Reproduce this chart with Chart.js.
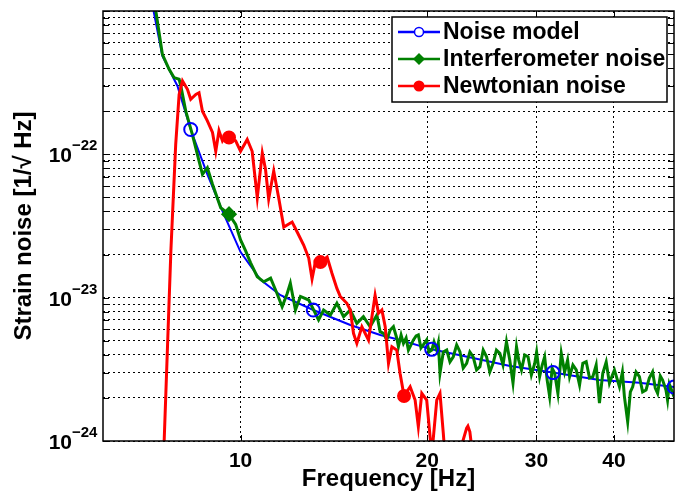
<!DOCTYPE html>
<html>
<head>
<meta charset="utf-8">
<script src="https://cdn.jsdelivr.net/npm/chart.js"></script>
<style>
  body { margin: 0; background: #fff; }
  canvas { display: block; }
</style>
</head>
<body>
<canvas id="noiseChart" width="675" height="494"></canvas>
<script>
// Axis limits and tick labels
const xRange = [6, 50];
const xTicks = [10, 20, 30, 40];
const yRange = [1e-24, 1e-21];
const yDecades = [1e-24, 1e-23, 1e-22];
const yLabelValues = [1e-24, 1e-23, 1e-22];
const yLabelExps = ['\u221224', '\u221223', '\u221222'];

// Noise model (blue), [frequency Hz, strain]
const modelNoise = [
  [7.24, 1.0e-21], [7.48, 4.85e-22], [7.91, 3.0e-22], [8.31, 1.49e-22], [8.84, 7.26e-23],
  [9.35, 4.02e-23], [10.0, 2.08e-23], [10.77, 1.33e-23], [11.6, 1.04e-23], [13.1, 8.2e-24],
  [15.03, 6.45e-24], [16.8, 5.49e-24], [18.08, 5.07e-24], [20.33, 4.36e-24], [23.7, 3.79e-24],
  [27.2, 3.34e-24], [31.9, 3.0e-24], [37.9, 2.66e-24], [44.0, 2.55e-24], [50, 2.38e-24]
];
const modelMarks = [8.31, 13.1, 20.33, 31.9, 50];

// Interferometer noise (green)
const ifoNoise = [
  [7.30, 1.0e-21], [7.48, 4.99e-22], [7.67, 3.92e-22], [7.81, 3.43e-22], [7.96, 3.34e-22],
  [8.01, 3.0e-22], [8.16, 2.0e-22], [8.36, 1.38e-22], [8.57, 8.99e-23], [8.68, 7.25e-23],
  [8.84, 8.07e-23], [9.01, 6.18e-23], [9.29, 4.24e-23], [9.58, 3.82e-23], [9.82, 3.25e-23],
  [10.0, 2.53e-23], [10.19, 2.12e-23], [10.38, 1.75e-23], [10.64, 1.40e-23], [10.90, 1.29e-23],
  [11.18, 1.37e-23], [11.45, 1.07e-23], [11.67, 8.65e-24], [11.89, 1.07e-23], [12.03, 1.26e-23],
  [12.26, 8.20e-24], [12.49, 1.02e-23], [12.88, 9.63e-24], [13.12, 8.20e-24], [13.36, 6.99e-24],
  [13.61, 8.20e-24], [13.96, 7.57e-24], [14.30, 9.13e-24], [14.66, 7.37e-24], [15.03, 8.20e-24],
  [15.40, 6.62e-24], [15.78, 7.37e-24], [16.18, 6.27e-24], [16.59, 7.57e-24], [16.79, 5.79e-24],
  [17.00, 5.64e-24], [17.21, 5.07e-24], [17.43, 5.95e-24], [17.64, 6.27e-24], [17.86, 5.23e-24],
  [17.97, 4.55e-24], [18.15, 5.49e-24], [18.31, 4.80e-24], [18.49, 5.23e-24], [18.65, 4.31e-24],
  [18.83, 4.68e-24], [19.00, 5.07e-24], [19.19, 5.40e-24], [19.35, 5.49e-24], [19.54, 4.46e-24],
  [19.71, 4.68e-24], [19.96, 5.07e-24], [20.13, 4.18e-24], [20.34, 4.31e-24], [20.51, 4.91e-24],
  [20.72, 4.31e-24], [20.84, 4.83e-24], [20.97, 2.97e-24], [21.23, 4.18e-24], [21.50, 4.31e-24],
  [21.76, 3.56e-24], [22.03, 3.87e-24], [22.31, 4.68e-24], [22.58, 4.20e-24], [22.86, 3.23e-24],
  [23.15, 3.48e-24], [23.43, 4.18e-24], [23.72, 3.87e-24], [24.02, 3.13e-24], [24.32, 3.30e-24],
  [24.62, 4.31e-24], [24.93, 3.87e-24], [25.23, 3.03e-24], [25.54, 3.48e-24], [25.86, 4.31e-24],
  [26.19, 4.09e-24], [26.50, 3.39e-24], [26.84, 4.93e-24], [27.17, 3.67e-24], [27.50, 2.54e-24],
  [27.86, 4.55e-24], [28.09, 3.67e-24], [28.38, 3.13e-24], [28.72, 3.98e-24], [29.08, 3.87e-24],
  [29.44, 2.89e-24], [29.81, 3.48e-24], [30.02, 4.18e-24], [30.36, 2.81e-24], [30.65, 3.39e-24],
  [30.93, 3.87e-24], [31.22, 2.66e-24], [31.51, 2.04e-24], [31.80, 3.23e-24], [32.10, 2.97e-24],
  [32.49, 2.15e-24], [32.90, 4.09e-24], [33.31, 3.03e-24], [33.68, 3.67e-24], [33.93, 2.81e-24],
  [34.35, 3.39e-24], [34.78, 3.13e-24], [35.21, 2.46e-24], [35.64, 3.48e-24], [36.09, 3.57e-24],
  [36.54, 2.75e-24], [36.99, 2.81e-24], [37.45, 3.39e-24], [37.91, 1.84e-24], [38.38, 2.97e-24],
  [38.87, 3.56e-24], [39.34, 2.53e-24], [39.78, 2.89e-24], [40.08, 3.13e-24], [40.53, 2.66e-24],
  [40.83, 2.39e-24], [41.28, 3.03e-24], [41.59, 2.04e-24], [42.10, 1.36e-24], [42.52, 2.20e-24],
  [42.89, 2.39e-24], [43.43, 3.03e-24], [43.97, 2.81e-24], [44.50, 2.20e-24], [45.07, 2.27e-24],
  [45.62, 2.75e-24], [46.18, 3.04e-24], [46.64, 2.34e-24], [47.05, 2.15e-24], [47.52, 2.84e-24],
  [47.93, 2.66e-24], [48.53, 2.27e-24], [48.82, 1.93e-24], [49.13, 2.50e-24], [50, 2.04e-24]
];
const ifoMarks = [9.58];

// Newtonian noise (red)
const nnNoise = [
  [7.46, 3.88e-25], [7.53, 1.0e-24], [7.72, 2.12e-23], [7.86, 1.18e-22], [7.96, 2.62e-22],
  [8.06, 3.25e-22], [8.21, 2.84e-22], [8.31, 2.42e-22], [8.47, 2.62e-22], [8.57, 2.69e-22],
  [8.68, 2.0e-22], [8.84, 1.71e-22], [9.01, 1.42e-22], [9.12, 1.05e-22], [9.23, 1.46e-22],
  [9.35, 1.24e-22], [9.46, 1.34e-22], [9.58, 1.31e-22], [9.82, 1.24e-22], [10.0, 1.05e-22],
  [10.25, 1.27e-22], [10.44, 1.05e-22], [10.64, 4.98e-23], [10.84, 1.02e-22], [10.97, 7.86e-23],
  [11.10, 4.88e-23], [11.31, 7.65e-23], [11.52, 4.98e-23], [11.74, 3.11e-23], [12.11, 3.37e-23],
  [12.34, 2.87e-23], [12.64, 2.33e-23], [12.88, 1.89e-23], [13.04, 1.35e-23], [13.20, 1.77e-23],
  [13.45, 1.77e-23], [13.79, 1.92e-23], [14.04, 1.48e-23], [14.30, 1.16e-23], [14.48, 1.02e-23],
  [14.84, 9.13e-24], [15.03, 8.20e-24], [15.21, 5.64e-24], [15.40, 4.80e-24], [15.69, 6.27e-24],
  [16.08, 5.07e-24], [16.48, 1.04e-23], [16.69, 7.78e-24], [16.90, 8.20e-24], [17.11, 6.27e-24],
  [17.32, 3.48e-24], [17.54, 4.55e-24], [17.86, 4.31e-24], [18.08, 2.97e-24], [18.35, 2.06e-24],
  [18.77, 2.39e-24], [19.12, 1.93e-24], [19.35, 1.26e-24], [19.60, 2.15e-24], [19.96, 1.93e-24],
  [20.34, 7.99e-25], [20.72, 1.93e-24], [20.97, 2.15e-24], [21.23, 1.13e-24], [21.50, 5.34e-25],
  [22.03, 2.81e-25], [22.58, 6.28e-25], [22.83, 1.0e-24], [23.15, 1.23e-24], [23.26, 1.27e-24],
  [23.43, 1.16e-24], [23.72, 7.37e-25], [24.32, 2.81e-25]
];
const nnMarks = [9.58, 13.45, 18.35];

const FONT = '"Liberation Sans", Arial, Helvetica, sans-serif';
const font = size => 'bold ' + size + 'px ' + FONT;

const toPoints = pairs => pairs.map(p => ({x: p[0], y: p[1]}));
const markerRadius = (marks, r) => ctx => (ctx.raw && marks.includes(ctx.raw.x)) ? r : 0;

// grid positions: 1..9 in every decade
const yGrid = [];
yDecades.forEach(d => { for (let m = 1; m <= 9; m++) yGrid.push(m * d); });
yGrid.push(yRange[1]);

const legendEntries = [
  {label: 'Noise model', color: '#0000ff', marker: 'openCircle'},
  {label: 'Interferometer noise', color: '#008000', marker: 'diamond'},
  {label: 'Newtonian noise', color: '#ff0000', marker: 'circle'}
];

// frame, inner ticks, tick labels with superscripts, and the legend box
const decorPlugin = {
  id: 'decor',
  afterDatasetsDraw(chart) {
    const {ctx, chartArea: a, scales: {x, y}} = chart;
    ctx.save();
    ctx.strokeStyle = '#000';
    ctx.lineWidth = 1;
    ctx.beginPath();
    y.ticks.forEach(t => {
      const py = Math.round(y.getPixelForValue(t.value)) + 0.5;
      ctx.moveTo(a.left, py); ctx.lineTo(a.left + 6, py);
      ctx.moveTo(a.right, py); ctx.lineTo(a.right - 6, py);
    });
    x.ticks.forEach(t => {
      const px = Math.round(x.getPixelForValue(t.value)) + 0.5;
      ctx.moveTo(px, a.bottom); ctx.lineTo(px, a.bottom - 6);
      ctx.moveTo(px, a.top); ctx.lineTo(px, a.top + 6);
    });
    ctx.stroke();
    ctx.lineWidth = 1.5;
    ctx.strokeRect(a.left, a.top, a.right - a.left, a.bottom - a.top);

    ctx.fillStyle = '#000';
    ctx.textBaseline = 'alphabetic';
    ctx.font = font(21);
    ctx.textAlign = 'center';
    xTicks.forEach(v => ctx.fillText(String(v), x.getPixelForValue(v), 467));
    yLabelValues.forEach((v, i) => {
      const py = y.getPixelForValue(v);
      ctx.font = font(21);
      ctx.textAlign = 'right';
      ctx.fillText('10', 72, py + 8);
      ctx.font = font(15);
      ctx.textAlign = 'left';
      ctx.fillText(yLabelExps[i], 72, py - 4);
    });

    // legend
    const bx = 392, by = 17, bw = 275, bh = 85;
    ctx.fillStyle = '#fff';
    ctx.fillRect(bx, by, bw, bh);
    ctx.lineWidth = 1.5;
    ctx.strokeStyle = '#000';
    ctx.strokeRect(bx, by, bw, bh);
    const rows = [32, 59, 86];
    legendEntries.forEach((e, i) => {
      const ry = rows[i];
      ctx.strokeStyle = e.color;
      ctx.lineWidth = 2.5;
      ctx.beginPath();
      ctx.moveTo(398, ry); ctx.lineTo(440, ry);
      ctx.stroke();
      ctx.fillStyle = e.color;
      ctx.beginPath();
      if (e.marker === 'openCircle') {
        ctx.lineWidth = 1.5;
        ctx.arc(419, ry, 4.5, 0, Math.PI * 2);
        ctx.fillStyle = '#fff';
        ctx.fill();
        ctx.stroke();
      } else if (e.marker === 'diamond') {
        ctx.moveTo(419, ry - 6); ctx.lineTo(425, ry); ctx.lineTo(419, ry + 6); ctx.lineTo(413, ry);
        ctx.closePath();
        ctx.fill();
      } else {
        ctx.arc(419, ry, 5.5, 0, Math.PI * 2);
        ctx.fill();
      }
      ctx.fillStyle = '#000';
      ctx.font = font(23);
      ctx.textAlign = 'left';
      ctx.textBaseline = 'middle';
      ctx.fillText(e.label, 443, ry + 1);
    });
    ctx.restore();
  }
};

const gridOpts = {color: '#000', lineWidth: 1, drawTicks: false};

new Chart(document.getElementById('noiseChart'), {
  type: 'line',
  data: {
    datasets: [
      {
        label: 'Noise model markers',
        data: toPoints(modelNoise.filter(p => modelMarks.includes(p[0]))),
        showLine: false,
        pointStyle: 'circle',
        pointRadius: 6.5,
        pointBorderWidth: 2,
        pointBorderColor: '#0000ff',
        pointBackgroundColor: 'rgba(0,0,0,0)',
        order: 0
      },
      {
        label: 'Newtonian noise',
        data: toPoints(nnNoise),
        borderColor: '#ff0000',
        borderWidth: 3,
        pointStyle: 'circle',
        pointRadius: markerRadius(nnMarks, 5.5),
        pointBackgroundColor: '#ff0000',
        pointBorderColor: '#ff0000',
        order: 1
      },
      {
        label: 'Interferometer noise',
        data: toPoints(ifoNoise),
        borderColor: '#008000',
        borderWidth: 3,
        pointStyle: 'rectRot',
        pointRadius: markerRadius(ifoMarks, 6),
        pointBackgroundColor: '#008000',
        pointBorderColor: '#008000',
        order: 2
      },
      {
        label: 'Noise model',
        data: toPoints(modelNoise),
        borderColor: '#0000ff',
        borderWidth: 2,
        pointRadius: 0,
        order: 3
      }
    ]
  },
  options: {
    responsive: false,
    animation: false,
    events: [],
    devicePixelRatio: 1,
    layout: {autoPadding: false, padding: {left: 0, right: 1, top: 11, bottom: 0}},
    elements: {line: {tension: 0}},
    plugins: {legend: {display: false}, tooltip: {enabled: false}},
    scales: {
      x: {
        type: 'logarithmic',
        min: xRange[0],
        max: xRange[1],
        afterBuildTicks: s => { s.ticks = xTicks.map(v => ({value: v})); },
        afterFit: s => { s.height = 53; },
        ticks: {display: false},
        grid: gridOpts,
        border: {display: false, dash: [2, 3]},
        title: {
          display: true,
          text: 'Frequency [Hz]',
          color: '#000',
          font: {family: FONT, size: 24, weight: 'bold', lineHeight: 1.2},
          padding: {top: 0, bottom: 0}
        }
      },
      y: {
        type: 'logarithmic',
        min: yRange[0],
        max: yRange[1],
        afterBuildTicks: s => { s.ticks = yGrid.map(v => ({value: v})); },
        afterFit: s => { s.width = 103; },
        ticks: {display: false},
        grid: gridOpts,
        border: {display: false, dash: [2, 3]},
        title: {
          display: true,
          text: 'Strain noise [1/\u221A Hz]',
          color: '#000',
          font: {family: FONT, size: 24, weight: 'bold', lineHeight: 1.2},
          padding: {top: 10, bottom: 0}
        }
      }
    }
  },
  plugins: [decorPlugin]
});
</script>
</body>
</html>
